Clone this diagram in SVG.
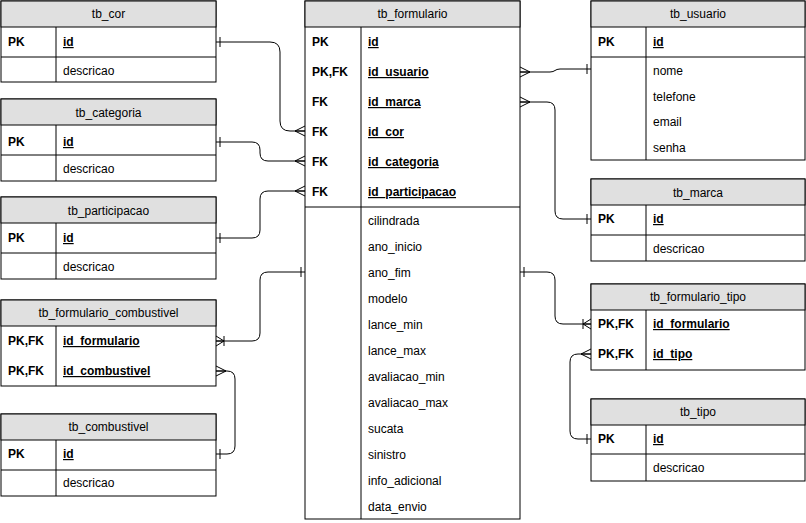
<svg xmlns="http://www.w3.org/2000/svg" width="806" height="523" viewBox="0 0 806 523">
<style>
text{font-family:"Liberation Sans",Arial,sans-serif;font-size:12px;fill:#000}
.h{text-anchor:middle}
.k{font-weight:bold}
.u{font-weight:bold;text-decoration:underline}
.box{fill:#fff;stroke:#000;stroke-width:1}
.hd{fill:#e0e0e0;stroke:#000;stroke-width:1}
.ln{stroke:#000;stroke-width:1;fill:none}
.c{stroke:#000;stroke-width:1;fill:none}
</style>
<defs>
<marker id="many" markerUnits="userSpaceOnUse" markerWidth="12" markerHeight="12" viewBox="0 0 12 12" refX="11" refY="6" orient="auto-start-reverse" overflow="visible"><path d="M1,6 L11,1 M1,6 L11,6 M1,6 L11,11" fill="none" stroke="#000"/></marker>
<marker id="one" markerUnits="userSpaceOnUse" markerWidth="12" markerHeight="12" viewBox="0 0 12 12" refX="11" refY="6" orient="auto-start-reverse" overflow="visible"><path d="M7,1 L7,11" fill="none" stroke="#000"/></marker>
<marker id="onemany" markerUnits="userSpaceOnUse" markerWidth="12" markerHeight="12" viewBox="0 0 12 12" refX="11" refY="6" orient="auto-start-reverse" overflow="visible"><path d="M3,6 L11,1 M3,6 L11,6 M3,6 L11,11 M3,1 L3,11" fill="none" stroke="#000"/></marker>
</defs>
<rect width="806" height="523" fill="#fff"/>

<g id="connectors">
<path class="c" d="M216,42 H270 Q280,42 280,52 V121 Q280,131 290,131 H305" marker-start="url(#one)" marker-end="url(#many)"/>
<path class="c" d="M216,142 H252 Q260,142 260,150 V153 Q260,161 268,161 H305" marker-start="url(#one)" marker-end="url(#many)"/>
<path class="c" d="M216,238 H252 Q260,238 260,230 V199 Q260,191 268,191 H305" marker-start="url(#one)" marker-end="url(#many)"/>
<path class="c" d="M216,341 H252 Q260,341 260,333 V280 Q260,272 268,272 H305" marker-start="url(#onemany)" marker-end="url(#one)"/>
<path class="c" d="M216,454 H227 Q235,454 235,446 V379 Q235,371 227,371 H216" marker-start="url(#one)" marker-end="url(#many)"/>
<path class="c" d="M520,72 H550 C555,72 555,69 560,69 H591" marker-start="url(#many)" marker-end="url(#one)"/>
<path class="c" d="M520,102 H547 Q555,102 555,110 V211 Q555,219 563,219 H591" marker-start="url(#many)" marker-end="url(#one)"/>
<path class="c" d="M520,272 H547 Q555,272 555,280 V316 Q555,324 563,324 H591" marker-start="url(#one)" marker-end="url(#onemany)"/>
<path class="c" d="M591,439 H578 Q570,439 570,431 V362 Q570,354 578,354 H591" marker-start="url(#one)" marker-end="url(#many)"/>
</g>

<g id="tb_cor">
<rect class="box" x="1" y="1" width="215" height="81"/>
<rect class="hd" x="1" y="1" width="215" height="26"/>
<path class="ln" d="M56,27 V82 M1,57 H216"/>
<text class="h" x="108.5" y="18">tb_cor</text>
<text class="k" x="8" y="46">PK</text>
<text class="u" x="63" y="46">id</text>
<text x="63" y="75">descricao</text>
</g>

<g id="tb_categoria">
<rect class="box" x="1" y="99" width="215" height="82"/>
<rect class="hd" x="1" y="99" width="215" height="26"/>
<path class="ln" d="M56,125 V181 M1,155 H216"/>
<text class="h" x="108.5" y="117">tb_categoria</text>
<text class="k" x="8" y="146">PK</text>
<text class="u" x="63" y="146">id</text>
<text x="63" y="173">descricao</text>
</g>

<g id="tb_participacao">
<rect class="box" x="1" y="197" width="215" height="82"/>
<rect class="hd" x="1" y="197" width="215" height="26"/>
<path class="ln" d="M56,223 V279 M1,253 H216"/>
<text class="h" x="108.5" y="215">tb_participacao</text>
<text class="k" x="8" y="242">PK</text>
<text class="u" x="63" y="242">id</text>
<text x="63" y="271">descricao</text>
</g>

<g id="tb_formulario_combustivel">
<rect class="box" x="1" y="300" width="215" height="86"/>
<rect class="hd" x="1" y="300" width="215" height="26"/>
<path class="ln" d="M56,326 V386"/>
<text class="h" x="108.5" y="317">tb_formulario_combustivel</text>
<text class="k" x="8" y="345">PK,FK</text>
<text class="u" x="63" y="345">id_formulario</text>
<text class="k" x="8" y="375">PK,FK</text>
<text class="u" x="63" y="375">id_combustivel</text>
</g>

<g id="tb_combustivel">
<rect class="box" x="1" y="414" width="215" height="82"/>
<rect class="hd" x="1" y="414" width="215" height="26"/>
<path class="ln" d="M56,440 V496 M1,470 H216"/>
<text class="h" x="108.5" y="431">tb_combustivel</text>
<text class="k" x="8" y="458">PK</text>
<text class="u" x="63" y="458">id</text>
<text x="63" y="487">descricao</text>
</g>

<g id="tb_formulario">
<rect class="box" x="305" y="1" width="215" height="518"/>
<rect class="hd" x="305" y="1" width="215" height="26"/>
<path class="ln" d="M361,27 V519 M305,207 H520"/>
<text class="h" x="412.5" y="18">tb_formulario</text>
<text class="k" x="312" y="46">PK</text>
<text class="u" x="368" y="46">id</text>
<text class="k" x="312" y="76">PK,FK</text>
<text class="u" x="368" y="76">id_usuario</text>
<text class="k" x="312" y="106">FK</text>
<text class="u" x="368" y="106">id_marca</text>
<text class="k" x="312" y="136">FK</text>
<text class="u" x="368" y="136">id_cor</text>
<text class="k" x="312" y="166">FK</text>
<text class="u" x="368" y="166">id_categoria</text>
<text class="k" x="312" y="196">FK</text>
<text class="u" x="368" y="196">id_participacao</text>
<text x="368" y="225">cilindrada</text>
<text x="368" y="251">ano_inicio</text>
<text x="368" y="277">ano_fim</text>
<text x="368" y="303">modelo</text>
<text x="368" y="329">lance_min</text>
<text x="368" y="355">lance_max</text>
<text x="368" y="381">avaliacao_min</text>
<text x="368" y="407">avaliacao_max</text>
<text x="368" y="433">sucata</text>
<text x="368" y="459">sinistro</text>
<text x="368" y="485">info_adicional</text>
<text x="368" y="511">data_envio</text>
</g>

<g id="tb_usuario">
<rect class="box" x="591" y="1" width="214" height="159"/>
<rect class="hd" x="591" y="1" width="214" height="26"/>
<path class="ln" d="M646,27 V160 M591,57 H805"/>
<text class="h" x="698" y="18">tb_usuario</text>
<text class="k" x="598" y="46">PK</text>
<text class="u" x="653" y="46">id</text>
<text x="653" y="75">nome</text>
<text x="653" y="101">telefone</text>
<text x="653" y="126">email</text>
<text x="653" y="152">senha</text>
</g>

<g id="tb_marca">
<rect class="box" x="591" y="179" width="214" height="82"/>
<rect class="hd" x="591" y="179" width="214" height="26"/>
<path class="ln" d="M646,205 V261 M591,235 H805"/>
<text class="h" x="698" y="197">tb_marca</text>
<text class="k" x="598" y="223">PK</text>
<text class="u" x="653" y="223">id</text>
<text x="653" y="253">descricao</text>
</g>

<g id="tb_formulario_tipo">
<rect class="box" x="591" y="284" width="214" height="86"/>
<rect class="hd" x="591" y="284" width="214" height="26"/>
<path class="ln" d="M646,310 V370"/>
<text class="h" x="698" y="301">tb_formulario_tipo</text>
<text class="k" x="598" y="328">PK,FK</text>
<text class="u" x="653" y="328">id_formulario</text>
<text class="k" x="598" y="358">PK,FK</text>
<text class="u" x="653" y="358">id_tipo</text>
</g>

<g id="tb_tipo">
<rect class="box" x="591" y="399" width="214" height="82"/>
<rect class="hd" x="591" y="399" width="214" height="26"/>
<path class="ln" d="M646,425 V481 M591,454 H805"/>
<text class="h" x="698" y="416">tb_tipo</text>
<text class="k" x="598" y="443">PK</text>
<text class="u" x="653" y="443">id</text>
<text x="653" y="472">descricao</text>
</g>
</svg>
